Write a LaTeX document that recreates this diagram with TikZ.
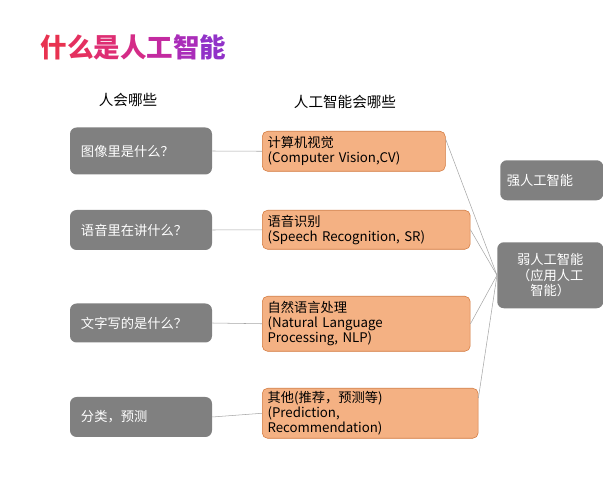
\documentclass[tikz,border=0pt]{standalone}
\usepackage{fontspec}
\setmainfont{Noto Sans CJK SC}
\usetikzlibrary{positioning}
\definecolor{boxgray}{RGB}{128,128,128}
\definecolor{boxorange}{RGB}{244,177,131}
\definecolor{edgeorange}{RGB}{210,120,60}
\begin{document}
\begin{tikzpicture}[
  x=0.0265cm, y=-0.0265cm,
  human/.style={
    draw=none,
    rounded corners=5pt,
    fill=boxgray,
    text=white,
    font=\fontsize{10}{12}\selectfont,
    minimum width=142*0.0265cm,
    align=left,
    text width=120*0.0265cm
  },
  machine/.style={
    draw=edgeorange,
    rounded corners=4pt,
    fill=boxorange,
    font=\fontsize{10}{11.5}\selectfont,
    align=left,
    inner xsep=4pt,
    inner ysep=2pt,
    anchor=north west
  },
  link/.style={
    draw=gray!70,
    thin
  }
]%
\useasboundingbox (0,0) rectangle (603,500);
\node [anchor=west, font=\fontsize{20}{24}\selectfont\bfseries] (title) at (36,47)
  {\textcolor[RGB]{232,50,80}{什}\textcolor[RGB]{228,48,95}{么}\textcolor[RGB]{222,46,115}{是}\textcolor[RGB]{212,44,135}{人}\textcolor[RGB]{195,42,160}{工}\textcolor[RGB]{170,45,185}{智}\textcolor[RGB]{145,50,200}{能}};
\node [font=\fontsize{11}{13}\selectfont] (hhead) at (128,100) {人会哪些};
\node [font=\fontsize{11}{13}\selectfont] (mhead) at (345,102) {人工智能会哪些};
% left column
\node [human, minimum height=47*0.0265cm] (h1) at (141,151) {图像里是什么？};
\node [human, minimum height=40*0.0265cm] (h2) at (141,230) {语音里在讲什么？};
\node [human, minimum height=39*0.0265cm] (h3) at (141,323) {文字写的是什么？};
\node [human, minimum height=40*0.0265cm] (h4) at (141,417) {分类，预测};
% middle column
\node [machine, text width=4.57cm, minimum height=40*0.0265cm] (m1) at (262,131) {计算机视觉\\(Computer Vision,CV)};
\node [machine, text width=5.23cm, minimum height=39*0.0265cm] (m2) at (262,210) {语音识别\\(Speech Recognition, SR)};
\node [machine, text width=5.23cm, minimum height=55*0.0265cm] (m3) at (262,296) {自然语言处理\\(Natural Language\\Processing, NLP)};
\node [machine, text width=5.44cm, minimum height=50*0.0265cm] (m4) at (262,388) {其他(推荐，预测等)\\(Prediction,\\Recommendation)};
% right column
\node [human, anchor=north west, minimum width=103*0.0265cm, text width=90*0.0265cm, minimum height=40*0.0265cm] (strong) at (500,160) {强人工智能};
\node [human, anchor=north west, minimum width=106*0.0265cm, text width=90*0.0265cm, minimum height=66*0.0265cm, align=center, font=\fontsize{10}{11.5}\selectfont] (weak) at (497,242) {弱人工智能\\（应用人工\\智能）};
% connectors
\draw [link] (h1.east) -- (m1.west);
\draw [link] (h2.east) -- (m2.west);
\draw [link] (h3.east) -- (m3.west);
\draw [link] (h4.east) -- (m4.west);
\draw [link] (m1.north east) ++(0,8) coordinate (c1) -- (weak.west);
\draw [link] (m2.east) -- (weak.west);
\draw [link] (m3.east) -- (weak.west);
\draw [link] (m4.north east) ++(0,10) coordinate (c4) -- (weak.west);
\end{tikzpicture}
\end{document}
